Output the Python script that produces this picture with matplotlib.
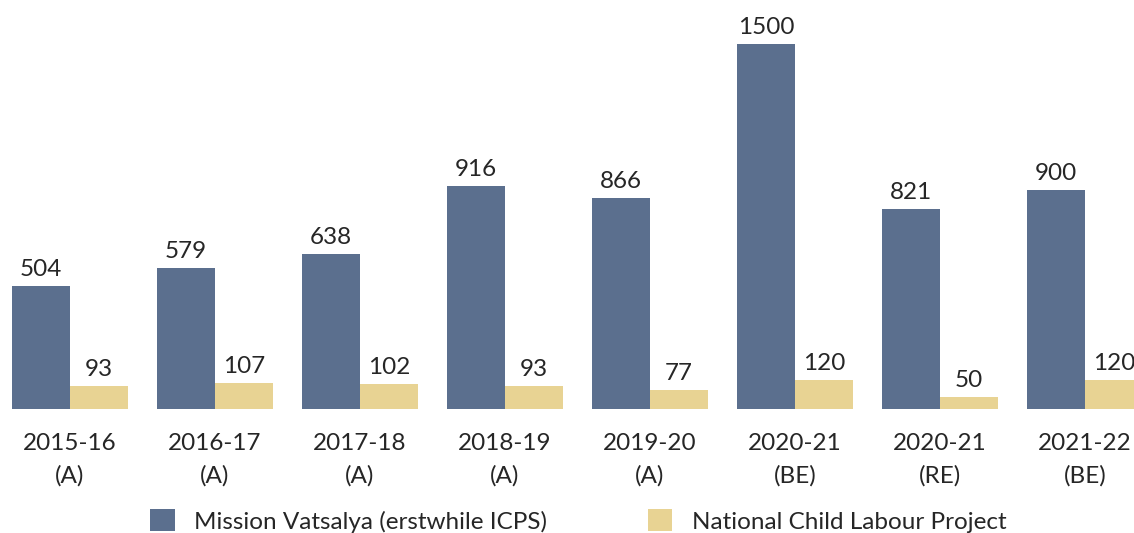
import matplotlib.pyplot as plt
import numpy as np

years = ["2015-16\n(A)", "2016-17\n(A)", "2017-18\n(A)", "2018-19\n(A)",
         "2019-20\n(A)", "2020-21\n(BE)", "2020-21\n(RE)", "2021-22\n(BE)"]
vatsalya = [504, 579, 638, 916, 866, 1500, 821, 900]
nclp = [93, 107, 102, 93, 77, 120, 50, 120]

blue = "#5B6F8E"
beige = "#E8D393"
txt = "#262626"

plt.rcParams['font.family'] = ['Lato', 'DejaVu Sans']

fig = plt.figure(figsize=(11.34, 5.33), dpi=100)
ax = fig.add_axes([0, 124/533, 1, 409/533])

x = np.arange(len(years))
w = 0.4
b1 = ax.bar(x - w/2, vatsalya, w, color=blue, label="Mission Vatsalya (erstwhile ICPS)")
b2 = ax.bar(x + w/2, nclp, w, color=beige, label="National Child Labour Project")

for bars, vals in ((b1, vatsalya), (b2, nclp)):
    for r, v in zip(bars, vals):
        ax.text(r.get_x() + r.get_width()/2, v + 25, str(v), ha='center', va='bottom',
                fontsize=17.5, color=txt)

ax.set_xlim(-70/145, (1134-70)/145)
ax.set_ylim(0, 1681)
ax.set_xticks(x)
ax.set_xticklabels(years, fontsize=17.5, color=txt, linespacing=1.65)
ax.tick_params(axis='x', length=0, pad=17)
ax.set_yticks([])
for s in ax.spines.values():
    s.set_visible(False)

fig.legend(handles=[b1, b2], loc='center', bbox_to_anchor=(0.51, 12/533), ncol=2,
           frameon=False, fontsize=17.5, handlelength=1.0, handleheight=1.0,
           columnspacing=4.15, handletextpad=0.8, labelcolor=txt)

fig.savefig("out.png", dpi=100)
